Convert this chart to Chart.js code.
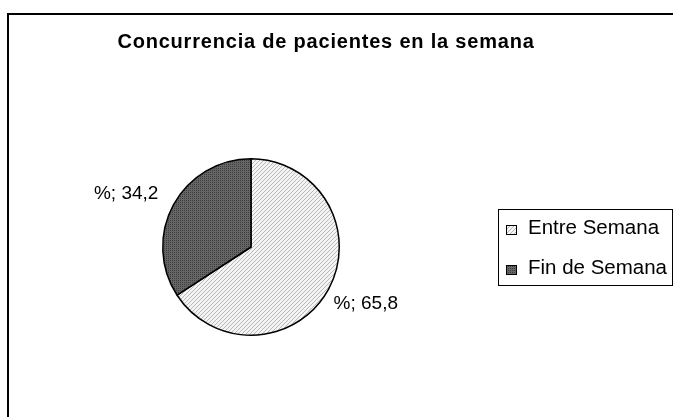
<!DOCTYPE html>
<html>
<head>
<meta charset="utf-8">
<script src="https://cdn.jsdelivr.net/npm/chart.js@4.4.0/dist/chart.umd.min.js"></script>
<style>
  html, body { margin: 0; padding: 0; background: #fff; }
  #wrap { width: 673px; height: 417px; }
</style>
</head>
<body>
<div id="wrap"><canvas id="myChart" width="673" height="417"></canvas></div>
<script>
const titleText = 'Concurrencia de pacientes en la semana';
const categories = ['Entre Semana', 'Fin de Semana'];
const percentValues = [65.8, 34.2];

// hatched fills like the old office chart
function makePattern(kind) {
  const c = document.createElement('canvas');
  c.width = 4; c.height = 4;
  const g = c.getContext('2d');
  if (kind === 'hatch') {
    g.fillStyle = '#f4f4f4';
    g.fillRect(0, 0, 4, 4);
    g.fillStyle = '#b8b8b8';
    for (let i = 0; i < 4; i++) g.fillRect(3 - i, i, 1, 1);
  } else {
    g.fillStyle = '#666666';
    g.fillRect(0, 0, 4, 4);
    g.fillStyle = '#3c3c3c';
    g.fillRect(0, 0, 1, 1); g.fillRect(2, 2, 1, 1);
    g.fillRect(2, 0, 1, 1); g.fillRect(0, 2, 1, 1);
  }
  return g.createPattern(c, 'repeat');
}
const fills = [makePattern('hatch'), makePattern('dots')];
const font = '"Liberation Sans", Arial, sans-serif';

const decor = {
  id: 'decor',
  beforeDraw(chart) {
    const ctx = chart.ctx;
    ctx.save();
    ctx.fillStyle = '#fff';
    ctx.fillRect(0, 0, chart.width, chart.height);
    ctx.strokeStyle = '#000';
    ctx.lineWidth = 2;
    ctx.beginPath();
    ctx.moveTo(8, chart.height + 2);
    ctx.lineTo(8, 14);
    ctx.lineTo(chart.width + 2, 14);
    ctx.stroke();
    ctx.fillStyle = '#000';
    ctx.font = 'bold 20px ' + font;
    ctx.letterSpacing = '0.8px';
    ctx.textAlign = 'center';
    ctx.textBaseline = 'alphabetic';
    ctx.fillText(titleText, 326, 48);
    ctx.restore();
  },
  afterDraw(chart) {
    const ctx = chart.ctx;
    const arcs = chart.getDatasetMeta(0).data;
    ctx.save();
    ctx.font = '19px ' + font;
    ctx.fillStyle = '#000';
    ctx.textBaseline = 'alphabetic';
    arcs.forEach((arc, i) => {
      const mid = (arc.startAngle + arc.endAngle) / 2;
      const r = arc.outerRadius;
      const left = Math.cos(mid) < 0;
      const x = arc.x + Math.cos(mid) * r + (left ? -15 : 5);
      const y = arc.y + Math.sin(mid) * r + (left ? -6 : 20);
      const txt = '%; ' + percentValues[i].toFixed(1).replace('.', ',');
      ctx.textAlign = left ? 'right' : 'left';
      ctx.fillText(txt, x, y);
    });
    // legend box
    ctx.strokeStyle = '#000';
    ctx.lineWidth = 1;
    ctx.strokeRect(498.5, 209.5, 174, 76);
    ctx.font = '20.5px ' + font;
    ctx.textAlign = 'left';
    categories.forEach((name, i) => {
      const base = 234 + i * 40;
      ctx.fillStyle = fills[i];
      ctx.fillRect(506, base - 9, 11, 10);
      ctx.strokeRect(506.5, base - 8.5, 10, 9);
      ctx.fillStyle = '#000';
      ctx.fillText(name, 528, base);
    });
    ctx.restore();
  }
};

new Chart(document.getElementById('myChart'), {
  type: 'pie',
  data: {
    labels: categories,
    datasets: [{
      data: percentValues,
      backgroundColor: fills,
      borderColor: '#000',
      borderWidth: 1.5
    }]
  },
  options: {
    responsive: false,
    animation: false,
    layout: { padding: { left: 162, right: 333, top: 157, bottom: 80 } },
    plugins: {
      legend: { display: false },
      tooltip: { enabled: false },
      title: { display: false }
    }
  },
  plugins: [decor]
});
</script>
</body>
</html>
